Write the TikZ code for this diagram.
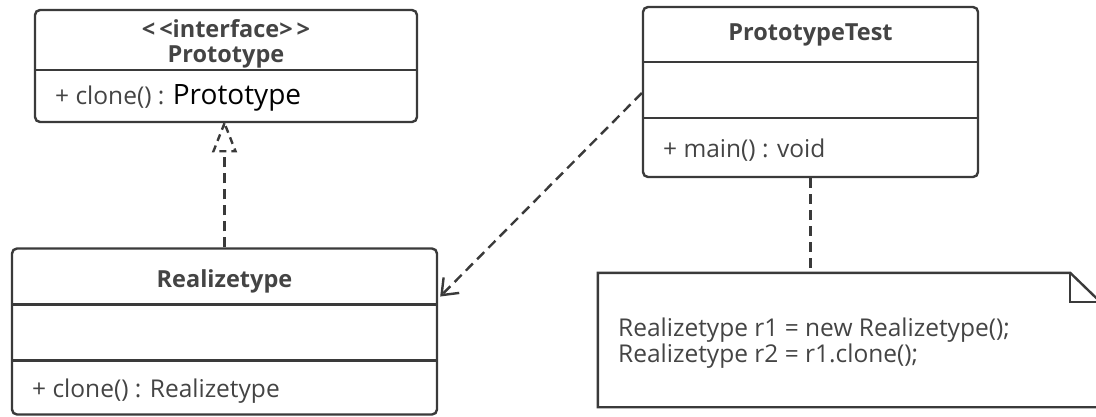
\documentclass[tikz,border=0pt]{standalone}
\usepackage{fontspec}
\setmainfont{Open Sans}
\usetikzlibrary{arrows.meta,calc}
\definecolor{ln}{HTML}{3A3A3A}
\definecolor{tx}{HTML}{444444}
\begin{document}
\begin{tikzpicture}[x=1pt,y=-1pt,
  box/.style={draw=ln,line width=2.4pt,rounded corners=5pt,inner sep=0pt},
  sep/.style={draw=ln,line width=2.4pt},
  dsh/.style={draw=ln,line width=2.4pt,dash pattern=on 10pt off 6pt},
  ttl/.style={font=\bfseries\fontsize{23.5}{26}\selectfont,text=tx,inner sep=0pt},
  mem/.style={font=\fontsize{24.5}{24}\selectfont,text=tx,inner sep=0pt,anchor=west},
]
\useasboundingbox (0,0) rectangle (1096,416);
\clip (0,0) rectangle (1096,416);
% Prototype interface
\node[box,minimum width=382pt,minimum height=112pt] (P) at (226,66) {};
\draw[sep] ($(P.west)+(0,4)$) -- ($(P.east)+(0,4)$);
\node[ttl] (Pst) at (226,29) {<\,<interface>\,>};
\node[ttl] (Pn) at (226,57) {Prototype};
\node[mem] (Pm) at (55,98) {+ clone() : \textcolor{black}{\fontsize{28}{30}\selectfont Prototype}};
% Realizetype
\node[box,minimum width=425pt,minimum height=166pt] (R) at (224.5,331.5) {};
\draw[sep] ($(R.west)+(0,-27)$) -- ($(R.east)+(0,-27)$);
\draw[sep] ($(R.west)+(0,29)$) -- ($(R.east)+(0,29)$);
\node[ttl] (Rn) at (224.5,281) {Realizetype};
\node[mem] (Rm) at (32,391) {+ clone() : Realizetype};
% PrototypeTest
\node[box,minimum width=335pt,minimum height=170pt] (T) at (810.5,92) {};
\draw[sep] ($(T.west)+(0,-30)$) -- ($(T.east)+(0,-30)$);
\draw[sep] ($(T.west)+(0,26)$) -- ($(T.east)+(0,26)$);
\node[ttl] (Tn) at (810.5,35) {PrototypeTest};
\node[mem] (Tm) at (663,150) {+ main() : void};
% Note
\node[inner sep=0pt,minimum width=502pt,minimum height=134pt] (N) at (849,340) {};
\draw[sep,line join=miter] ($(N.north west)$) -- ($(N.north east)+(-30,0)$) -- ($(N.north east)+(0,29)$) -- (N.south east) -- (N.south west) -- cycle;
\draw[sep,line join=miter] ($(N.north east)+(-30,0)$) -- ($(N.north east)+(-30,29)$) -- ($(N.north east)+(0,29)$);
\node[mem,align=left] (Nt) at (618,343) {Realizetype r1 = new Realizetype();\\Realizetype r2 = r1.clone();};
% Realization
\coordinate (Rtop) at (R.north);
\coordinate (Ptip) at (Rtop |- P.south);
\draw[dsh] (Rtop) -- ($(Ptip)+(0,28)$);
\draw[dsh,dash pattern=on 7pt off 5pt,line join=miter] (Ptip) -- ($(Ptip)+(-11,28)$) -- ($(Ptip)+(11,28)$) -- cycle;
% Dependency
\coordinate (Tl) at ($(T.west)+(0,1)$);
\coordinate (Rr) at ($(R.east)+(2,-35)$);
\draw[dsh,-{Straight Barb[length=14pt,width=22pt,line width=2.4pt]}] (Tl) -- (Rr);
% Note link
\draw[dsh] (T.south) -- (T.south |- N.north);
\end{tikzpicture}
\end{document}
